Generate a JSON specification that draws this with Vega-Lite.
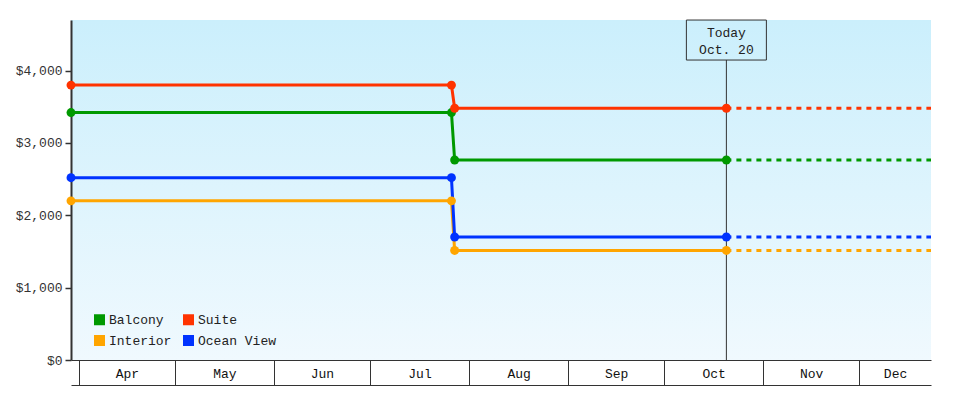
{
  "$schema": "https://vega.github.io/schema/vega-lite/v6.json",
  "width": 860,
  "height": 340,
  "autosize": "none",
  "padding": {"left": 71, "top": 20, "right": 49, "bottom": 40},
  "background": "white",
  "config": {
    "view": {"stroke": null, "fill": {"gradient": "linear", "x1": 0, "y1": 0, "x2": 0, "y2": 1, "stops": [{"offset": 0, "color": "#cbeffc"}, {"offset": 1, "color": "#f0f9fe"}]}},
    "font": "Liberation Mono",
    "axis": {"labelFont": "Liberation Mono", "labelFontSize": 13, "labelColor": "#222", "grid": false, "domainColor": "#333", "tickColor": "#333", "titleFont": "Liberation Mono"}
  },
  "datasets": {
    "solid": [
      {"series": "Balcony", "date": "2023-03-29T12:00:00", "price": 3420},
      {"series": "Balcony", "date": "2023-07-26T12:00:00", "price": 3420},
      {"series": "Balcony", "date": "2023-07-27T12:00:00", "price": 2765},
      {"series": "Balcony", "date": "2023-10-20T12:00:00", "price": 2765},
      {"series": "Suite", "date": "2023-03-29T12:00:00", "price": 3800},
      {"series": "Suite", "date": "2023-07-26T12:00:00", "price": 3800},
      {"series": "Suite", "date": "2023-07-27T12:00:00", "price": 3480},
      {"series": "Suite", "date": "2023-10-20T12:00:00", "price": 3480},
      {"series": "Interior", "date": "2023-03-29T12:00:00", "price": 2200},
      {"series": "Interior", "date": "2023-07-26T12:00:00", "price": 2200},
      {"series": "Interior", "date": "2023-07-27T12:00:00", "price": 1515},
      {"series": "Interior", "date": "2023-10-20T12:00:00", "price": 1515},
      {"series": "Ocean View", "date": "2023-03-29T12:00:00", "price": 2520},
      {"series": "Ocean View", "date": "2023-07-26T12:00:00", "price": 2520},
      {"series": "Ocean View", "date": "2023-07-27T12:00:00", "price": 1700},
      {"series": "Ocean View", "date": "2023-10-20T12:00:00", "price": 1700}
    ],
    "dashed": [
      {"series": "Balcony", "date": "2023-10-20T12:00:00", "price": 2765},
      {"series": "Balcony", "date": "2023-12-23T12:00:00", "price": 2765},
      {"series": "Suite", "date": "2023-10-20T12:00:00", "price": 3480},
      {"series": "Suite", "date": "2023-12-23T12:00:00", "price": 3480},
      {"series": "Interior", "date": "2023-10-20T12:00:00", "price": 1515},
      {"series": "Interior", "date": "2023-12-23T12:00:00", "price": 1515},
      {"series": "Ocean View", "date": "2023-10-20T12:00:00", "price": 1700},
      {"series": "Ocean View", "date": "2023-12-23T12:00:00", "price": 1700}
    ],
    "today": [
      {"date": "2023-10-20T12:00:00", "label": "Today\nOct. 20"}
    ]
  },
  "resolve": {"axis": {"x": "independent"}},
  "layer": [
    {
      "data": {"name": "today"},
      "mark": {"type": "rule", "color": "#333", "strokeWidth": 1},
      "encoding": {
        "x": {"field": "date", "type": "temporal", "scale": {"domain": [{"year": 2023, "month": 3, "date": 29, "hours": 12}, {"year": 2023, "month": 12, "date": 23, "hours": 12}], "nice": false}, "axis": null},
        "y": {"datum": 0, "type": "quantitative", "scale": {"domain": [0, 4700], "nice": false}, "title": null},
        "y2": {"datum": 4147}
      }
    },
    {
      "data": {"name": "today"},
      "mark": {"type": "point", "shape": "M-1,-0.5H1V0.5H-1Z", "size": 6400, "filled": false, "stroke": "#333", "strokeWidth": 1, "opacity": 1},
      "encoding": {
        "x": {"field": "date", "type": "temporal", "scale": {"domain": [{"year": 2023, "month": 3, "date": 29, "hours": 12}, {"year": 2023, "month": 12, "date": 23, "hours": 12}], "nice": false}, "axis": null},
        "y": {"datum": 4423, "type": "quantitative", "scale": {"domain": [0, 4700], "nice": false}, "title": null}
      }
    },
    {
      "data": {"name": "today"},
      "mark": {"type": "text", "font": "Liberation Mono", "fontSize": 13, "color": "#222", "align": "center", "baseline": "middle", "lineBreak": "\n", "lineHeight": 17},
      "encoding": {
        "x": {"field": "date", "type": "temporal", "scale": {"domain": [{"year": 2023, "month": 3, "date": 29, "hours": 12}, {"year": 2023, "month": 12, "date": 23, "hours": 12}], "nice": false}, "axis": null},
        "y": {"datum": 4527, "type": "quantitative", "scale": {"domain": [0, 4700], "nice": false}, "title": null},
        "text": {"field": "label"}
      }
    },
    {
      "data": {"name": "solid"},
      "mark": {"type": "line", "strokeWidth": 3},
      "encoding": {
        "x": {
          "field": "date", "type": "temporal",
          "scale": {"domain": [{"year": 2023, "month": 3, "date": 29, "hours": 12}, {"year": 2023, "month": 12, "date": 23, "hours": 12}], "nice": false},
          "axis": {
            "orient": "bottom", "title": null, "labels": false, "tickSize": 25, "tickWidth": 1, "domainWidth": 1,
            "values": [
              {"year": 2023, "month": 4, "date": 1}, {"year": 2023, "month": 5, "date": 1}, {"year": 2023, "month": 6, "date": 1},
              {"year": 2023, "month": 7, "date": 1}, {"year": 2023, "month": 8, "date": 1}, {"year": 2023, "month": 9, "date": 1},
              {"year": 2023, "month": 10, "date": 1}, {"year": 2023, "month": 11, "date": 1}, {"year": 2023, "month": 12, "date": 1}
            ]
          }
        },
        "y": {
          "field": "price", "type": "quantitative",
          "scale": {"domain": [0, 4700], "nice": false},
          "axis": {"title": null, "values": [0, 1000, 2000, 3000, 4000], "format": "$,d", "tickSize": 6, "tickWidth": 1.5, "domainWidth": 2, "labelPadding": 3, "labelColor": "#333"}
        },
        "stroke": {
          "field": "series", "type": "nominal",
          "scale": {"domain": ["Ocean View", "Interior", "Suite", "Balcony"], "range": ["#0033ff", "#ffa500", "#ff3300", "#009900"]},
          "legend": null
        }
      }
    },
    {
      "data": {"name": "dashed"},
      "mark": {"type": "line", "strokeWidth": 3, "strokeDash": [5, 5]},
      "encoding": {
        "x": {
          "field": "date", "type": "temporal",
          "scale": {"domain": [{"year": 2023, "month": 3, "date": 29, "hours": 12}, {"year": 2023, "month": 12, "date": 23, "hours": 12}], "nice": false},
          "axis": {
            "orient": "bottom", "offset": 25, "title": null, "ticks": false, "tickSize": 0, "domainWidth": 1,
            "format": "%b", "labelPadding": -12, "labelBaseline": "middle", "labelColor": "#111",
            "labelFlush": false, "labelOverlap": false, "labelBound": false,
            "values": [
              {"year": 2023, "month": 4, "date": 16}, {"year": 2023, "month": 5, "date": 16, "hours": 12}, {"year": 2023, "month": 6, "date": 16},
              {"year": 2023, "month": 7, "date": 16, "hours": 12}, {"year": 2023, "month": 8, "date": 16, "hours": 12}, {"year": 2023, "month": 9, "date": 16},
              {"year": 2023, "month": 10, "date": 16, "hours": 12}, {"year": 2023, "month": 11, "date": 16}, {"year": 2023, "month": 12, "date": 12, "hours": 6}
            ]
          }
        },
        "y": {"field": "price", "type": "quantitative", "scale": {"domain": [0, 4700], "nice": false}, "title": null},
        "stroke": {
          "field": "series", "type": "nominal",
          "scale": {"domain": ["Ocean View", "Interior", "Suite", "Balcony"], "range": ["#0033ff", "#ffa500", "#ff3300", "#009900"]},
          "legend": null
        }
      }
    },
    {
      "data": {"name": "solid"},
      "mark": {"type": "point", "filled": true, "shape": "circle", "size": 80, "opacity": 1},
      "encoding": {
        "x": {"field": "date", "type": "temporal", "scale": {"domain": [{"year": 2023, "month": 3, "date": 29, "hours": 12}, {"year": 2023, "month": 12, "date": 23, "hours": 12}], "nice": false}, "axis": null},
        "y": {"field": "price", "type": "quantitative", "scale": {"domain": [0, 4700], "nice": false}, "title": null},
        "color": {
          "field": "series", "type": "nominal",
          "scale": {"domain": ["Balcony", "Interior", "Suite", "Ocean View"], "range": ["#009900", "#ffa500", "#ff3300", "#0033ff"]},
          "legend": {
            "orient": "bottom-left", "offset": 12, "columns": 2, "title": null,
            "symbolType": "square", "symbolSize": 121, "symbolStrokeWidth": 0, "symbolOpacity": 1, "symbolOffset": 10,
            "labelFont": "Liberation Mono", "labelFontSize": 13, "labelColor": "#222",
            "columnPadding": 0, "rowPadding": 7, "labelOffset": 3, "padding": 0
          }
        }
      }
    }
  ]
}
